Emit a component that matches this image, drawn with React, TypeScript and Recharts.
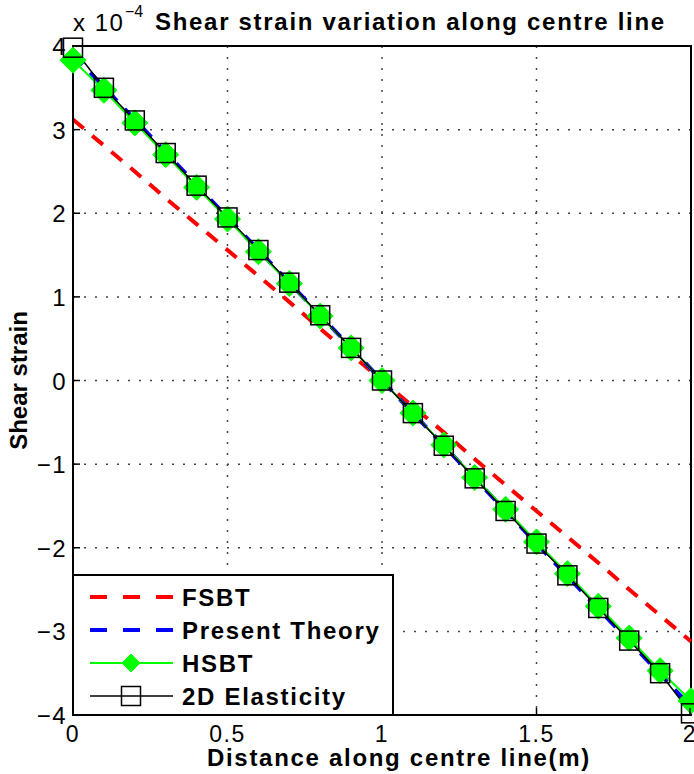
import React from 'react';
import {
  LineChart,
  Line,
  XAxis,
  YAxis,
  CartesianGrid,
  ReferenceArea,
} from 'recharts';

// distance along centre line (m)
const distances = [0, 0.1, 0.2, 0.3, 0.4, 0.5, 0.6, 0.7, 0.8, 0.9, 1.0, 1.1, 1.2, 1.3, 1.4, 1.5, 1.6, 1.7, 1.8, 1.9, 2.0];

// shear strain, x 10^-4
const fsbt = [3.12, 2.81, 2.5, 2.18, 1.87, 1.56, 1.25, 0.94, 0.62, 0.31, 0, -0.31, -0.62, -0.94, -1.25, -1.56, -1.87, -2.18, -2.5, -2.81, -3.12];
const presentTheory = [3.9, 3.51, 3.12, 2.73, 2.34, 1.95, 1.56, 1.17, 0.78, 0.39, 0, -0.39, -0.78, -1.17, -1.56, -1.95, -2.34, -2.73, -3.12, -3.51, -3.9];
const hsbt = [3.83, 3.47, 3.08, 2.7, 2.31, 1.93, 1.54, 1.16, 0.77, 0.39, 0, -0.39, -0.77, -1.16, -1.54, -1.93, -2.31, -2.7, -3.08, -3.47, -3.83];
const elasticity2D = [3.98, 3.5, 3.11, 2.72, 2.33, 1.95, 1.56, 1.17, 0.78, 0.39, 0, -0.39, -0.78, -1.17, -1.56, -1.95, -2.33, -2.72, -3.11, -3.5, -3.98];

const xTicks = [0, 0.5, 1, 1.5, 2];
const yTicks = [-4, -3, -2, -1, 0, 1, 2, 3, 4];

const data = distances.map((x, i) => ({
  x,
  fsbt: fsbt[i],
  present: presentTheory[i],
  hsbt: hsbt[i],
  elasticity: elasticity2D[i],
}));

const FONT = '"Liberation Sans", Arial, sans-serif';
const WIDE = { letterSpacing: '1.7px' };

const Diamond = (props: any) => {
  const { cx, cy, size = 13 } = props;
  if (cx == null || cy == null) return null;
  return (
    <polygon
      points={`${cx},${cy - size} ${cx + size},${cy} ${cx},${cy + size} ${cx - size},${cy}`}
      fill="#00ff00"
      stroke="#00ff00"
    />
  );
};

const Square = (props: any) => {
  const { cx, cy } = props;
  if (cx == null || cy == null) return null;
  const h = 9.5;
  return <rect x={cx - h} y={cy - h} width={h * 2} height={h * 2} fill="none" stroke="#000" strokeWidth={1.5} />;
};

const fmt = (v: number) => (v < 0 ? `\u2212${Math.abs(v)}` : `${v}`);

const XTick = (props: any) => {
  const { x, y, payload } = props;
  return (
    <g>
      <line x1={x} x2={x} y1={715} y2={708} stroke="#000" strokeWidth={1.5} />
      <text x={x} y={y + 19} textAnchor="middle" fontSize={23} fontFamily={FONT} fill="#000" style={{ letterSpacing: '1.5px' }}>
        {fmt(payload.value)}
      </text>
    </g>
  );
};

const YTick = (props: any) => {
  const { x, y, payload } = props;
  return (
    <g>
      <line x1={73} x2={80} y1={y} y2={y} stroke="#000" strokeWidth={1.5} />
      <text x={x + 2} y={y + 9} textAnchor="end" fontSize={24} fontFamily={FONT} fill="#000" style={{ letterSpacing: '1.5px' }}>
        {fmt(payload.value)}
      </text>
    </g>
  );
};

const YLabel = ({ viewBox }: any) => {
  const cx = viewBox.x + 27;
  const cy = viewBox.y + viewBox.height / 2;
  return (
    <text x={cx} y={cy} transform={`rotate(-90, ${cx}, ${cy})`} textAnchor="middle" fontSize={24} fontWeight="bold" fontFamily={FONT} fill="#000">
      Shear strain
    </text>
  );
};

const XLabel = ({ viewBox }: any) => {
  const cx = viewBox.x + viewBox.width / 2 + 17;
  return (
    <text x={cx} y={viewBox.y + 51} textAnchor="middle" fontSize={24} fontWeight="bold" fontFamily={FONT} fill="#000" style={WIDE}>
      Distance along centre line(m)
    </text>
  );
};

const legendItems = [
  { name: 'FSBT', color: '#ff0000', dash: '17 16', width: 4, marker: 'none' },
  { name: 'Present Theory', color: '#0000ff', dash: '17 16', width: 4, marker: 'none' },
  { name: 'HSBT', color: '#00ff00', dash: undefined, width: 2, marker: 'diamond' },
  { name: '2D Elasticity', color: '#000000', dash: undefined, width: 1.5, marker: 'square' },
];

const LegendBox = () => (
  <svg width={322} height={142} style={{ position: 'absolute', left: 72, top: 574 }}>
    <rect x={1} y={1} width={320} height={140} fill="#fff" stroke="#000" strokeWidth={2} />
    {legendItems.map((item, i) => {
      const cy = 23 + i * 33;
      return (
        <g key={item.name}>
          <line x1={18} x2={101} y1={cy} y2={cy} stroke={item.color} strokeWidth={item.width} strokeDasharray={item.dash} />
          {item.marker === 'diamond' && <Diamond cx={59} cy={cy} size={9} />}
          {item.marker === 'square' && <Square cx={59} cy={cy} />}
          <text x={110} y={cy + 9} fontSize={24} fontWeight="bold" fontFamily={FONT} fill="#000" style={WIDE}>
            {item.name}
          </text>
        </g>
      );
    })}
  </svg>
);

const Title = () => (
  <svg width={694} height={44} style={{ position: 'absolute', left: 0, top: 0 }}>
    <text x={73} y={31} fontSize={24} fontFamily={FONT} fill="#000" style={{ letterSpacing: '1.5px' }}>
      x 10
    </text>
    <text x={125} y={17} fontSize={16} fontFamily={FONT} fill="#000">
      {'\u2212'}4
    </text>
    <text x={155} y={30} fontSize={24} fontWeight="bold" fontFamily={FONT} fill="#000" style={WIDE}>
      Shear strain variation along centre line
    </text>
  </svg>
);

const App = () => (
  <div style={{ position: 'absolute', left: 0, top: 0, width: 694, height: 774, background: '#fff' }}>
    <LineChart width={694} height={774} data={data} margin={{ top: 46, right: 3, bottom: 0, left: 0 }}>
      <CartesianGrid stroke="#444" strokeDasharray="2 9" strokeWidth={1.5} />
      <XAxis
        dataKey="x"
        type="number"
        domain={[0, 2]}
        ticks={xTicks}
        height={59}
        axisLine={{ stroke: '#000', strokeWidth: 2 }}
        tickLine={false}
        tick={<XTick />}
        label={<XLabel />}
      />
      <YAxis
        type="number"
        domain={[-4, 4]}
        ticks={yTicks}
        width={73}
        axisLine={{ stroke: '#000', strokeWidth: 2 }}
        tickLine={false}
        tick={<YTick />}
        label={<YLabel />}
      />
      <ReferenceArea x1={0} x2={2} y1={-4} y2={4} fill="none" stroke="#000" strokeWidth={2} />
      <Line dataKey="fsbt" stroke="#ff0000" strokeWidth={4} strokeDasharray="14 11" dot={false} isAnimationActive={false} />
      <Line dataKey="present" stroke="#0000ff" strokeWidth={4} strokeDasharray="14 11" dot={false} isAnimationActive={false} />
      <Line dataKey="hsbt" stroke="#00ff00" strokeWidth={2} dot={<Diamond />} isAnimationActive={false} />
      <Line dataKey="elasticity" stroke="#000" strokeWidth={1.5} dot={<Square />} isAnimationActive={false} />
    </LineChart>
    <Title />
    <LegendBox />
  </div>
);

export default App;
